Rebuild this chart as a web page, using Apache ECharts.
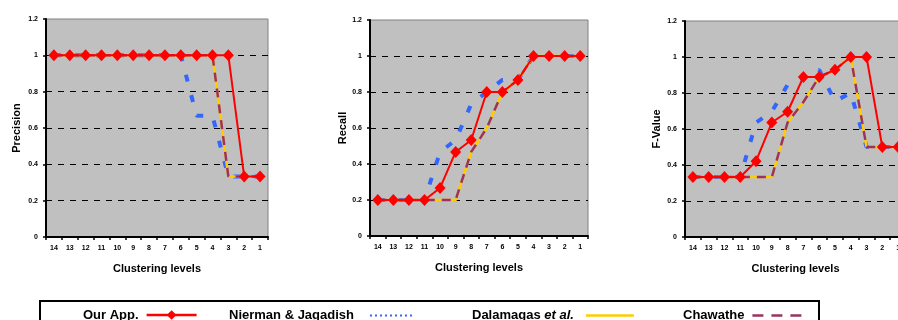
<!DOCTYPE html>
<html>
<head>
<meta charset="utf-8">
<script src="https://cdn.jsdelivr.net/npm/echarts@6/dist/echarts.min.js"></script>
<style>html,body{margin:0;padding:0;background:#fff;}#c{width:898px;height:320px;}</style>
</head>
<body>
<div id="c"></div>
<script>
const categories = ['14','13','12','11','10','9','8','7','6','5','4','3','2','1'];
const yTicks = [0, 0.2, 0.4, 0.6, 0.8, 1, 1.2];
const seriesNames = ['Our App.', 'Nierman & Jagadish', 'Dalamagas et al.', 'Chawathe'];
const panelTitles = ['Precision', 'Recall', 'F-Value'];

// Precision
const precOurApp   = [1,1,1,1,1,1,1,1,1,1,1,1,0.333,0.333];
const precNierman  = [1,1,1,1,1,1,1,1,1,0.667,0.667,0.333,0.333,0.333];
const precDalamagas= [1,1,1,1,1,1,1,1,1,1,1,0.333,0.333,0.333];
const precChawathe = [1,1,1,1,1,1,1,1,1,1,1,0.333,0.333,0.333];
// Recall
const recOurApp    = [0.2,0.2,0.2,0.2,0.267,0.467,0.533,0.8,0.8,0.867,1,1,1,1];
const recNierman   = [0.2,0.2,0.2,0.2,0.467,0.533,0.733,0.8,0.867,0.867,1,1,1,1];
const recDalamagas = [0.2,0.2,0.2,0.2,0.2,0.2,0.467,0.6,0.8,0.867,1,1,1,1];
const recChawathe  = [0.2,0.2,0.2,0.2,0.2,0.2,0.467,0.6,0.8,0.867,1,1,1,1];
// F-Value
const fOurApp      = [0.333,0.333,0.333,0.333,0.421,0.636,0.696,0.889,0.889,0.929,1,1,0.5,0.5];
const fNierman     = [0.333,0.333,0.333,0.333,0.636,0.696,0.846,0.889,0.929,0.754,0.8,0.5,0.5,0.5];
const fDalamagas   = [0.333,0.333,0.333,0.333,0.333,0.333,0.636,0.75,0.889,0.929,1,0.5,0.5,0.5];
const fChawathe    = [0.333,0.333,0.333,0.333,0.333,0.333,0.636,0.75,0.889,0.929,1,0.5,0.5,0.5];

const panels = [
  [precOurApp, precNierman, precDalamagas, precChawathe],
  [recOurApp, recNierman, recDalamagas, recChawathe],
  [fOurApp, fNierman, fDalamagas, fChawathe]
];

const FONT = 'Liberation Sans, Arial, sans-serif';
const gridPos = [
  {left: 46, top: 19, width: 222, height: 218},
  {left: 370, top: 20, width: 218, height: 216},
  {left: 685, top: 21, width: 221, height: 216}
];
const nameGaps = [24, 21, 23];

const grids = gridPos.map(g => Object.assign({
  show: true, backgroundColor: '#c0c0c0', borderColor: '#808080', borderWidth: 1,
  containLabel: false, outerBoundsMode: 'none'
}, g));

const xAxes = gridPos.map((g, i) => ({
  type: 'category', gridIndex: i, data: categories, boundaryGap: true,
  name: 'Clustering levels', nameLocation: 'middle', nameGap: 26,
  nameTextStyle: {fontFamily: FONT, fontWeight: 'bold', fontSize: 11, color: '#000'},
  axisLine: {show: true, lineStyle: {color: '#000', width: 2}},
  axisTick: {show: true, interval: 0, length: 3, lineStyle: {color: '#000', width: 1.5}},
  axisLabel: {interval: 0, margin: 8, fontFamily: FONT, fontWeight: 'bold', fontSize: 7, color: '#000'},
  splitLine: {show: false}
}));

const splitColors = yTicks.map(v => (v > 0 && v < 1.2) ? '#000' : 'rgba(0,0,0,0)');
const yAxes = gridPos.map((g, i) => ({
  type: 'value', gridIndex: i, min: 0, max: 1.2, interval: 0.2,
  name: panelTitles[i], nameLocation: 'middle', nameGap: nameGaps[i], nameRotate: 90,
  nameTextStyle: {fontFamily: FONT, fontWeight: 'bold', fontSize: 11, color: '#000'},
  axisLine: {show: true, lineStyle: {color: '#000', width: 2}},
  axisTick: {show: true, length: 3, lineStyle: {color: '#000', width: 1.5}},
  axisLabel: {margin: 8, fontFamily: FONT, fontWeight: 'bold', fontSize: 7, color: '#000',
    formatter: v => String(Math.round(v * 10) / 10)},
  splitLine: {show: true, lineStyle: {color: splitColors, type: [6, 6], width: 1}}
}));

const styles = [
  {color: '#ff0000', lineStyle: {color: '#ff0000', width: 2, type: 'solid'}, symbol: 'diamond', symbolSize: [11, 12], z: 10},
  {color: '#3366ff', lineStyle: {color: '#3366ff', width: 4, type: [7, 14]}, symbol: 'none', z: 3},
  {color: '#ffcc00', lineStyle: {color: '#ffcc00', width: 2.5, type: 'solid'}, symbol: 'none', z: 4},
  {color: '#993366', lineStyle: {color: '#993366', width: 2.5, type: [9, 7]}, symbol: 'none', z: 5}
];

const series = [];
panels.forEach((vals, p) => {
  vals.forEach((data, s) => {
    const st = styles[s];
    series.push({
      type: 'line', name: seriesNames[s], xAxisIndex: p, yAxisIndex: p, data: data,
      symbol: st.symbol, symbolSize: st.symbolSize, showSymbol: st.symbol !== 'none',
      itemStyle: {color: st.color}, lineStyle: st.lineStyle, z: st.z, animation: false
    });
  });
});

const hidden = {color: 'rgba(0,0,0,0)', borderWidth: 0};
const legendDefs = [
  {name: 'Our App.', left: 83, w: 50, h: 12, top: 308.5, pad: 3, lineStyle: {type: 'solid', width: 2.5}, itemStyle: {color: '#ff0000'}},
  {name: 'Nierman & Jagadish', left: 229, w: 42, h: 9, top: 309, pad: 11, lineStyle: {type: [2, 3], width: 2}, itemStyle: hidden},
  {name: 'Dalamagas et al.', left: 472, w: 48, h: 9, top: 309, pad: 7, lineStyle: {type: 'solid', width: 2.5}, itemStyle: hidden},
  {name: 'Chawathe', left: 683, w: 49, h: 9, top: 309, pad: 3, lineStyle: {type: [11, 8], width: 2.5}, itemStyle: hidden}
];
const legends = legendDefs.map(d => ({
  data: [d.name], left: d.left, top: d.top, align: 'right', padding: 0,
  itemWidth: d.w, itemHeight: d.h, selectedMode: false,
  lineStyle: d.lineStyle, itemStyle: d.itemStyle,
  textStyle: {fontFamily: FONT, fontWeight: 'bold', fontSize: 13, color: '#000', padding: [0, d.pad, 0, 0],
    rich: {i: {fontFamily: FONT, fontWeight: 'bold', fontStyle: 'italic', fontSize: 13, color: '#000'}}},
  formatter: n => n === 'Dalamagas et al.' ? 'Dalamagas {i|et al.}' : n
}));

const chart = echarts.init(document.getElementById('c'), null, {renderer: 'canvas'});
chart.setOption({
  backgroundColor: '#fff',
  animation: false,
  grid: grids, xAxis: xAxes, yAxis: yAxes, series: series, legend: legends,
  graphic: [{type: 'rect', shape: {x: 40, y: 301, width: 779, height: 40},
    style: {fill: 'none', stroke: '#000', lineWidth: 2}, silent: true}]
});
</script>
</body>
</html>
